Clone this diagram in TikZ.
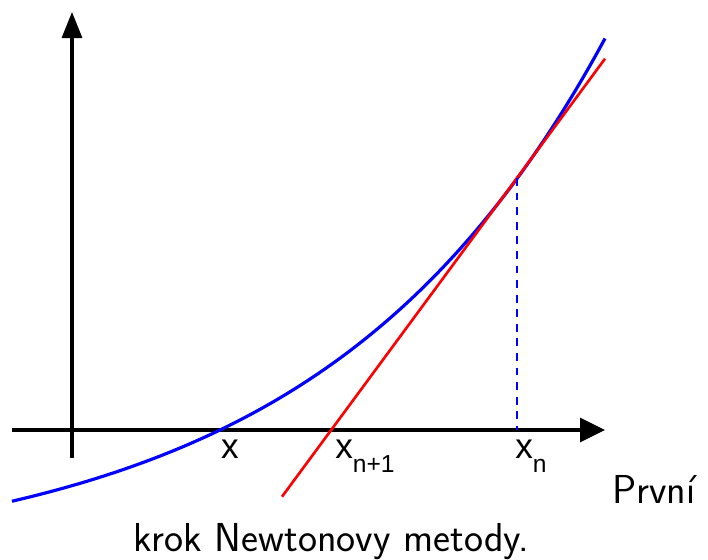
\documentclass[tikz,border=0pt]{standalone}
\usepackage{fontspec}
\newfontfamily\labelfont{Liberation Sans}
\usetikzlibrary{arrows.meta}

\newcommand{\lowsub}[1]{\raisebox{-0.42em}{\fontsize{14}{16}\selectfont #1}}

\begin{document}
\begin{tikzpicture}[
        x=0.02cm, y=-0.02cm,
        axis/.style={line width=1.8pt, black},
        curve/.style={line width=1.8pt, blue},
        tangent/.style={line width=1.5pt, red},
        drop/.style={line width=1.7pt, blue, dash pattern=on 4.5pt off 3.8pt},
        lbl/.style={font=\labelfont\fontsize{20}{24}\selectfont, inner sep=0pt},
        caption/.style={font=\sffamily\fontsize{23}{28}\selectfont, inner sep=0pt, anchor=base west}
    ]
    \useasboundingbox (0,0) rectangle (708,559);

    % --- axes ---
    \coordinate (xl) at (12,430);
    \coordinate (xr) at (605,430);
    \coordinate (yb) at (72,458);
    \coordinate (yt) at (72,12);
    \draw[axis, -{Triangle[length=0.5cm, width=0.48cm]}] (xl) -- (xr);
    \draw[axis, -{Triangle[length=0.52cm, width=0.4cm]}] (yb) -- (yt);

    % --- function and tangent ---
    \draw[curve] plot[domain=12:605, samples=80, smooth] (\x, {430-137.9*(exp(0.0035*(\x-220))-1)});
    \coordinate (T) at (517,178);
    \coordinate (Tfoot) at (517,430);
    \coordinate (t1) at (282,496.7);
    \coordinate (t2) at (605,58.7);
    \draw[tangent] (t1) -- (t2);
    \draw[drop] (T) -- (Tfoot);

    % --- labels ---
    \node[lbl, anchor=base] (root) at (230,458) {x};
    \node[lbl, anchor=base west] (xnext) at (335,458) {x\lowsub{n+1}};
    \node[lbl, anchor=base west] (xn) at (515,458) {x\lowsub{n}};

    % --- caption ---
    \node[caption] (cap1) at (612,503) {První};
    \node[caption] (cap2) at (133,551) {krok Newtonovy metody.};
\end{tikzpicture}
\end{document}
